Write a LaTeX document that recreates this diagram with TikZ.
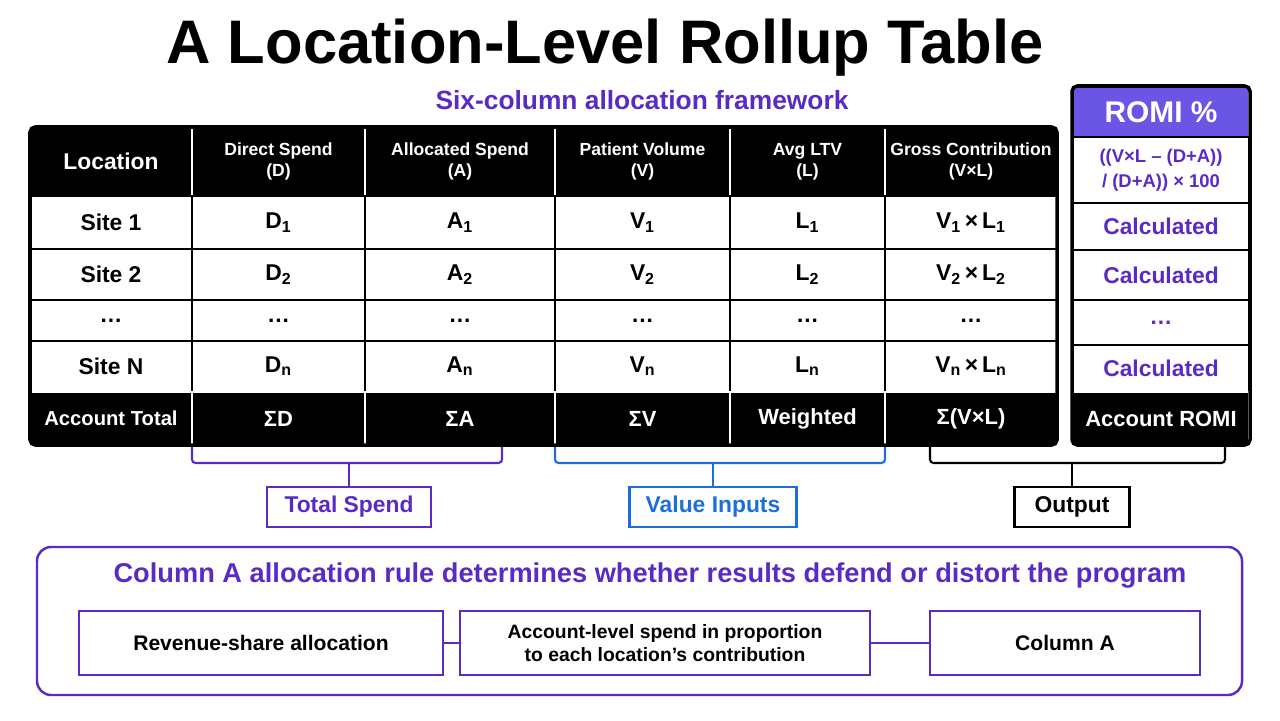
\documentclass[tikz,border=0pt]{standalone}
\usepackage{fontspec}
\setmainfont{Liberation Sans}
\usetikzlibrary{positioning,calc}
\definecolor{violet}{HTML}{5A2BC4}
\definecolor{romihead}{HTML}{6A55E4}
\definecolor{valblue}{HTML}{1C6ED8}
\tikzset{
  cell/.style={draw=black, line width=0.9pt, inner sep=0pt, align=center, font=\bfseries\fontsize{13}{14}\selectfont},
  headcell/.style={cell, fill=black, draw=white, text=white, font=\bfseries\fontsize{10}{12}\selectfont},
  footcell/.style={cell, fill=black, draw=white, text=white, font=\bfseries\fontsize{12.5}{14}\selectfont},
  tag/.style={draw, line width=1.2pt, inner sep=0pt, minimum height=40*0.02cm, font=\bfseries\fontsize{13}{14}\selectfont},
  rulebox/.style={draw=violet, line width=1.2pt, inner sep=0pt, minimum height=64*0.02cm, align=center, font=\bfseries\fontsize{12}{13}\selectfont},
  brace/.style={line width=1.2pt, rounded corners=2pt},
}
\begin{document}
\begin{tikzpicture}[x=0.02cm,y=-0.02cm]
\useasboundingbox (0,0) rectangle (1280,720);
% title
\node[font=\bfseries\fontsize{35}{38}\selectfont] (title) at (605,48) {A Location-Level Rollup Table};
\node[text=violet, font=\bfseries\fontsize{15}{16}\selectfont] (sub) at (642,100) {Six-column allocation framework};
% main table
\def\colx{30,192,365,555,730,885,1057}
\newcommand\cellrow[4]{% style, y-top, y-bottom, name prefix ; texts from \rowtexts
  \foreach \t [count=\i] in \rowtexts {
    \pgfmathsetmacro\xa{{\colx}[\i-1]}\pgfmathsetmacro\xb{{\colx}[\i]}
    \node[#1, minimum width=(\xb-\xa)*0.02cm, minimum height=(#3-#2)*0.02cm] (#4\i) at ({(\xa+\xb)/2},{(#2+#3)/2}) {\t};
  }}
\def\rowtexts{{\fontsize{13}{14}\selectfont Location},{Direct Spend\\(D)},{Allocated Spend\\(A)},{Patient Volume\\(V)},{Avg LTV\\(L)},{Gross Contribution\\(V×L)}}
\cellrow{headcell}{127}{196}{h}
\def\rowtexts{Site 1,D\textsubscript{1},A\textsubscript{1},V\textsubscript{1},L\textsubscript{1},V\textsubscript{1}\,×\,L\textsubscript{1}}
\cellrow{cell}{196}{249}{ra}
\def\rowtexts{Site 2,D\textsubscript{2},A\textsubscript{2},V\textsubscript{2},L\textsubscript{2},V\textsubscript{2}\,×\,L\textsubscript{2}}
\cellrow{cell}{249}{300}{rb}
\def\rowtexts{…,…,…,…,…,…}
\cellrow{cell}{300}{341}{rc}
\def\rowtexts{Site N,D\textsubscript{n},A\textsubscript{n},V\textsubscript{n},L\textsubscript{n},V\textsubscript{n}\,×\,L\textsubscript{n}}
\cellrow{cell}{341}{392}{rd}
\def\rowtexts{{\fontsize{11.5}{14}\selectfont Account Total},ΣD,ΣA,ΣV,Weighted,Σ(V×L)}
\cellrow{footcell}{392}{445}{f}
\draw[line width=2pt, rounded corners=3pt] (30,127) rectangle (1057,445);
% ROMI column
\node[cell, fill=romihead, draw=white, text=white, minimum width=176*0.02cm, minimum height=49*0.02cm, font=\bfseries\fontsize{17}{18}\selectfont] (romi) at (1161,112) {ROMI \%};
\node[cell, text=violet, minimum width=176*0.02cm, minimum height=66*0.02cm, font=\bfseries\fontsize{10.5}{14}\selectfont] (formula) at (1161,170) {((V×L – (D+A))\\/ (D+A)) × 100};
\node[cell, text=violet, minimum width=176*0.02cm, minimum height=47*0.02cm] (c1) at (1161,226.5) {Calculated};
\node[cell, text=violet, minimum width=176*0.02cm, minimum height=50*0.02cm] (c2) at (1161,275) {Calculated};
\node[cell, text=violet, minimum width=176*0.02cm, minimum height=45*0.02cm] (c3) at (1161,322.5) {…};
\node[cell, text=violet, minimum width=176*0.02cm, minimum height=47*0.02cm] (c4) at (1161,368.5) {Calculated};
\node[footcell, minimum width=176*0.02cm, minimum height=53*0.02cm] (rtot) at (1161,418.5) {Account ROMI};
\draw[line width=2pt, rounded corners=3pt] (1072,86) rectangle (1250,445);
% brackets and tags
\node[tag, draw=violet, text=violet, minimum width=164*0.02cm] (spend) at (349,507) {Total Spend};
\node[tag, draw=valblue, text=valblue, minimum width=167*0.02cm] (value) at (713,507) {Value Inputs};
\node[tag, draw=black, minimum width=115*0.02cm] (output) at (1072,507) {Output};
\draw[brace, violet] (192,447) |- (502,463) -- (502,447);
\draw[brace, violet] (spend.north |- 0,463) -- (spend);
\draw[brace, valblue] (555,447) |- (885,463) -- (885,447);
\draw[brace, valblue] (value.north |- 0,463) -- (value);
\draw[brace] (930,447) |- (1225,463) -- (1225,447);
\draw[brace] (output.north |- 0,463) -- (output);
% allocation rule panel
\draw[violet, line width=1.4pt, rounded corners=8pt] (37,547) rectangle (1242,695);
\node[text=violet, font=\bfseries\fontsize{15.5}{17}\selectfont] (rule) at (650,576) {Column A allocation rule determines whether results defend or distort the program};
\node[rulebox, minimum width=364*0.02cm] (share) at (261,643) {Revenue-share allocation};
\node[rulebox, minimum width=410*0.02cm, font=\bfseries\fontsize{11}{13}\selectfont] (prop) at (665,643) {Account-level spend in proportion\\to each location’s contribution};
\node[rulebox, minimum width=270*0.02cm] (colA) at (1065,643) {Column A};
\draw[violet, line width=1.2pt] (share) -- (prop);
\draw[violet, line width=1.2pt] (prop) -- (colA);
\end{tikzpicture}
\end{document}
